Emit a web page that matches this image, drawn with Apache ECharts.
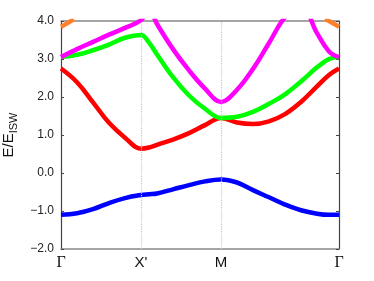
<!DOCTYPE html>
<html><head><meta charset="utf-8">
<script src="https://cdn.jsdelivr.net/npm/echarts@6/dist/echarts.min.js"></script>
<style>html,body{margin:0;padding:0;background:#fff}#c{width:374px;height:281px}</style>
</head><body><div id="c"></div>
<script>
// k-path positions (Γ=0, X'=1, M=2, Γ=3.475)
const kx = [0,0.2,0.4,0.6,0.8,1.0,1.1,1.2,1.4,1.6,1.8,2.0,2.2,2.4,2.6,2.8,3.0,3.2,3.35,3.475];
const kTicks = [0, 1, 2, 3.475];
const kLabels = ['Γ', "X'", 'M', 'Γ'];
const yTicks = [-2, -1, 0, 1, 2, 3, 4];

const band1 = [-1.10,-1.06,-0.95,-0.79,-0.66,-0.58,-0.56,-0.54,-0.43,-0.32,-0.22,-0.17,-0.25,-0.45,-0.64,-0.83,-0.98,-1.07,-1.10,-1.10];
const band2 = [2.75,2.39,1.86,1.32,0.93,0.64,0.67,0.74,0.88,1.05,1.26,1.45,1.33,1.29,1.36,1.55,1.87,2.28,2.58,2.75];
const band3 = [3.05,3.11,3.23,3.38,3.56,3.63,3.43,3.12,2.52,2.04,1.69,1.45,1.48,1.61,1.82,2.07,2.41,2.78,3.00,3.05];
const band4 = [3.05,3.26,3.45,3.64,3.82,4.02,4.30,3.92,3.26,2.70,2.22,1.87,2.19,2.74,3.42,4.10,4.40,3.68,3.20,3.05];
const band5LeftK = [0, 0.07, 0.16];
const band5Left = [3.85, 3.93, 4.05];
const band5RightK = [3.3, 3.4, 3.475];
const band5Right = [4.05, 3.94, 3.85];

const pairs = (xs, ys) => xs.map((x, i) => [x, ys[i]]);
const bandStyle = (color) => ({
  type: 'line', showSymbol: false, symbol: 'none', smooth: 0.4,
  lineStyle: { color: color, width: 4.5 }, itemStyle: { color: color }, z: 3
});

const chart = echarts.init(document.getElementById('c'), null, { renderer: 'canvas' });
chart.setOption({
  animation: false,
  backgroundColor: '#fff',
  grid: { left: 61, right: 35, top: 21, bottom: 32, containLabel: false, outerBoundsMode: 'none' },
  xAxis: [{
    type: 'value', min: 0, max: 3.475, position: 'bottom',
    axisLine: { show: true, onZero: false, lineStyle: { color: '#888', width: 1.5 } },
    axisTick: { show: false },
    splitLine: { show: false },
    axisLabel: {
      customValues: kTicks, margin: 6, color: '#111', fontSize: 15, fontFamily: 'Liberation Sans',
      formatter: function (v) {
        let i = kTicks.findIndex(t => Math.abs(t - v) < 1e-6);
        const s = i >= 0 ? kLabels[i] : '';
        return s === 'Γ' ? '{g|Γ}' : s;
      },
      rich: { g: { fontFamily: 'Liberation Serif', fontSize: 16, color: '#111' } }
    }
  }, {
    type: 'value', min: 0, max: 3.475, position: 'top',
    axisLine: { show: true, onZero: false, lineStyle: { color: '#888', width: 1.5 } },
    axisTick: { show: false }, axisLabel: { show: false }, splitLine: { show: false }
  }],
  yAxis: [{
    type: 'value', min: -2, max: 4, interval: 1, position: 'left',
    axisLine: { show: true, onZero: false, lineStyle: { color: '#444', width: 1.2 } },
    axisTick: { show: true, inside: true, length: 3, lineStyle: { color: '#444' } },
    splitLine: { show: false },
    axisLabel: {
      margin: 7, color: '#222', fontSize: 12, fontFamily: 'Liberation Sans',
      formatter: v => (v < 0 ? '\u2212' + Math.abs(v).toFixed(1) : v.toFixed(1))
    },
    name: '{m|E/E}{s|ISW}', nameLocation: 'middle', nameGap: 41,
    nameTextStyle: {
      color: '#111',
      rich: {
        m: { fontSize: 15, fontFamily: 'Liberation Sans', color: '#111' },
        s: { fontSize: 11, fontFamily: 'Liberation Sans', color: '#111', padding: [11, 0, 0, 0] }
      }
    }
  }, {
    type: 'value', min: -2, max: 4, interval: 1, position: 'right',
    axisLine: { show: true, onZero: false, lineStyle: { color: '#444', width: 1.2 } },
    axisTick: { show: true, inside: true, length: 3, lineStyle: { color: '#444' } },
    axisLabel: { show: false }, splitLine: { show: false }
  }],
  series: [
    {
      type: 'line', data: [], z: 1, silent: true,
      markLine: {
        silent: true, symbol: 'none', animation: false,
        label: { show: false },
        lineStyle: { type: 'dotted', color: '#c8c8c8', width: 1.2 },
        data: [{ xAxis: kTicks[1] }, { xAxis: kTicks[2] }]
      }
    },
    Object.assign(bandStyle('#0000ff'), { data: pairs(kx, band1) }),
    Object.assign(bandStyle('#ff0000'), { data: pairs(kx, band2) }),
    Object.assign(bandStyle('#00ff00'), { data: pairs(kx, band3) }),
    Object.assign(bandStyle('#ff00ff'), { data: pairs(kx, band4) }),
    Object.assign(bandStyle('#ff7f2a'), { data: pairs(band5LeftK, band5Left) }),
    Object.assign(bandStyle('#ff7f2a'), { data: pairs(band5RightK, band5Right) })
  ]
});
</script>
</body></html>
